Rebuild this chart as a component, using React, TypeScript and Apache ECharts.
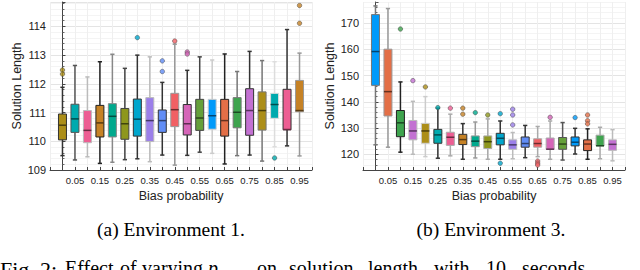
import React, { useEffect, useRef } from 'react';
import * as echarts from 'echarts';

const categories = ['0.00','0.05','0.10','0.15','0.20','0.25','0.30','0.35','0.40','0.45','0.50','0.55','0.60','0.65','0.70','0.75','0.80','0.85','0.90','0.95'];

const palette = ['#009AFA','#E36F47','#3EA44E','#C371D2','#AC8E18','#00AAAE','#ED5E93','#C68225','#00A98D','#8E971D','#00A6CD','#9B7FE9','#618DF6','#F16064','#D565B8','#65A03A'];

// [lower whisker, Q1, median, Q3, upper whisker]
const env1Boxes = [
  [109.50, 110.05, 110.56, 110.95, 111.88],
  [109.35, 110.31, 110.78, 111.29, 112.64],
  [109.46, 109.95, 110.38, 111.07, 112.24],
  [109.23, 110.15, 110.64, 111.25, 112.77],
  [109.27, 110.15, 110.87, 111.31, 113.03],
  [109.36, 110.07, 110.61, 111.14, 112.54],
  [109.39, 110.18, 110.77, 111.47, 113.00],
  [109.29, 109.99, 110.72, 111.52, 112.94],
  [109.52, 110.31, 110.72, 111.09, 112.05],
  [109.17, 110.51, 111.10, 111.67, 113.38],
  [109.51, 110.22, 110.61, 111.28, 112.47],
  [109.62, 110.38, 110.81, 111.46, 112.94],
  [109.58, 110.42, 110.89, 111.46, 112.83],
  [109.21, 110.18, 110.72, 111.46, 113.04],
  [109.50, 110.47, 111.01, 111.52, 112.43],
  [109.52, 110.21, 111.07, 111.83, 113.13],
  [109.31, 110.39, 111.07, 111.72, 112.81],
  [109.81, 110.80, 111.28, 111.67, 112.77],
  [109.84, 110.40, 110.41, 111.81, 113.89],
  [109.49, 111.03, 111.07, 112.12, 113.07],
];
const env1Outliers = [
  [0, 112.48], [0, 112.34], [6, 113.61], [8, 112.80], [8, 112.43], [9, 113.49],
  [10, 113.11], [10, 113.04], [17, 109.42], [19, 114.73], [19, 114.11],
];
const env1LineColors = ['#333','#555','#bbb','#222','#888','#444','#333','#bbb','#333','#999','#333','#444','#ccc','#222','#777','#333','#777','#ddd','#333','#999'];

const env3Boxes = [
  [123.6, 146.3, 159.2, 173.3, 176.6],
  [122.7, 134.6, 143.9, 160.1, 175.6],
  [120.8, 126.7, 132.0, 136.7, 147.6],
  [120.0, 125.5, 128.9, 132.9, 140.2],
  [119.1, 124.2, 128.9, 131.8, 142.0],
  [118.5, 124.2, 127.4, 129.5, 137.6],
  [119.4, 123.4, 126.5, 128.4, 135.3],
  [118.1, 123.7, 125.6, 127.6, 131.7],
  [118.6, 122.9, 125.0, 127.0, 132.3],
  [118.1, 122.2, 124.8, 127.0, 133.5],
  [118.1, 123.6, 126.1, 128.0, 132.7],
  [118.3, 121.9, 123.6, 125.5, 128.3],
  [118.7, 122.7, 124.1, 126.6, 131.0],
  [119.1, 122.7, 124.1, 125.9, 130.6],
  [118.1, 121.9, 121.95, 126.2, 132.7],
  [117.8, 121.9, 123.9, 126.4, 132.1],
  [120.1, 123.2, 124.6, 126.6, 129.9],
  [118.1, 121.4, 123.9, 125.5, 129.7],
  [118.3, 123.2, 123.25, 127.3, 130.3],
  [117.5, 121.5, 123.8, 125.5, 129.4],
];
const env3Outliers = [
  [2, 167.8], [3, 148.1], [4, 145.7], [5, 137.8], [6, 137.6], [7, 137.6], [7, 135.3],
  [8, 135.9], [9, 135.0], [10, 135.5], [10, 116.6], [11, 137.2], [11, 135.0], [11, 131.2],
  [13, 117.4], [13, 116.6], [13, 115.9], [14, 134.1], [16, 134.0], [17, 135.0], [17, 132.8], [17, 131.6],
];
const env3LineColors = ['#777','#999','#222','#bbb','#ccc','#333','#aaa','#333','#999','#aaa','#333','#bbb','#333','#aaa','#aaa','#555','#333','#222','#aaa','#bbb'];

const env1PaletteOffset = 4;
const env3PaletteOffset = 0;

function darken(hex: string, f: number) {
  const n = parseInt(hex.slice(1), 16);
  const r = Math.round(((n >> 16) & 255) * f);
  const g = Math.round(((n >> 8) & 255) * f);
  const b = Math.round((n & 255) * f);
  return `rgb(${r},${g},${b})`;
}

function makeRenderItem(lineColors: string[], offset: number) {
  return (params: any, api: any) => {
    const idx = params.dataIndex;
    const x = api.value(0);
    const lw = api.coord([x, api.value(1)]);
    const q1 = api.coord([x, api.value(2)]);
    const med = api.coord([x, api.value(3)]);
    const q3 = api.coord([x, api.value(4)]);
    const uw = api.coord([x, api.value(5)]);
    const band = api.size([1, 0])[0];
    const hw = band * 0.32;
    const cw = band * 0.17;
    const cx = lw[0];
    const fill = palette[(idx + offset) % palette.length];
    const lc = lineColors[idx];
    const lineStyle = { stroke: lc, lineWidth: 1.5 };
    return {
      type: 'group',
      children: [
        { type: 'line', shape: { x1: cx, y1: uw[1], x2: cx, y2: q3[1] }, style: lineStyle },
        { type: 'line', shape: { x1: cx, y1: q1[1], x2: cx, y2: lw[1] }, style: lineStyle },
        { type: 'line', shape: { x1: cx - cw, y1: uw[1], x2: cx + cw, y2: uw[1] }, style: lineStyle },
        { type: 'line', shape: { x1: cx - cw, y1: lw[1], x2: cx + cw, y2: lw[1] }, style: lineStyle },
        { type: 'rect', shape: { x: cx - hw, y: q3[1], width: hw * 2, height: q1[1] - q3[1] }, style: { fill, stroke: lc, lineWidth: 1 } },
        { type: 'line', shape: { x1: cx - hw, y1: med[1], x2: cx + hw, y2: med[1] }, style: { stroke: darken(fill, 0.45), lineWidth: 1.5 } },
      ],
    };
  };
}

const textColor = '#222';
const sans = 'Liberation Sans';

function xAxis(gridIndex: number) {
  return {
    type: 'value', gridIndex, min: -1, max: 20, interval: 1,
    name: 'Bias probability', nameLocation: 'middle', nameGap: 16,
    nameTextStyle: { fontFamily: sans, fontSize: 12.5, color: textColor },
    axisLine: { show: true, onZero: false, lineStyle: { color: '#444', width: 1 } },
    axisTick: { show: true, inside: true, length: 3, lineStyle: { color: '#444' } },
    axisLabel: {
      fontFamily: sans, fontSize: 9.5, color: textColor, margin: 5,
      formatter: (v: number) => (v >= 0 && v < categories.length && v % 2 === 1 ? categories[v] : ''),
    },
    splitLine: { show: true, lineStyle: { color: '#efefef', width: 1 } },
  };
}

function yAxis(gridIndex: number, min: number, max: number, interval?: number) {
  const a: any = {
    type: 'value', gridIndex, min, max,
    name: 'Solution Length', nameLocation: 'middle', nameGap: 25,
    nameTextStyle: { fontFamily: sans, fontSize: 12.5, color: textColor },
    axisLine: { show: true, lineStyle: { color: '#444', width: 1 } },
    axisTick: { show: true, inside: true, length: 3, lineStyle: { color: '#444' } },
    minorTick: { show: true, splitNumber: 5, length: 2, lineStyle: { color: '#666' } },
    axisLabel: { fontFamily: sans, fontSize: 11, color: textColor, margin: 4, showMinLabel: interval ? true : false, showMaxLabel: false },
    splitLine: { show: true, lineStyle: { color: '#e4e4e4', width: 1 } },
    minorSplitLine: { show: true, lineStyle: { color: '#f4f4f4', width: 1 } },
  };
  if (interval) a.interval = interval;
  return a;
}

const serif = 'Liberation Serif';
const figWords: [string, number, number][] = [
  ['Fig.', 0, 22], ['2:', 40, 22], ['Effect', 65, 20], ['of', 120, 20], ['varying', 142, 20],
  ['on', 257, 20], ['solution', 289, 20], ['length', 368, 20], ['with', 434, 20], ['10', 486, 20], ['seconds', 522, 20],
];

export default function App() {
  const ref = useRef<HTMLDivElement>(null);
  useEffect(() => {
    document.body.style.margin = '0';
    const chart = echarts.init(ref.current!, null, { renderer: 'svg' });
    const graphics: any[] = [
      { type: 'text', x: 171, y: 229, style: { text: '(a) Environment 1.', fontFamily: serif, fontSize: 19.5, fill: '#000', textAlign: 'center', textVerticalAlign: 'middle' } },
      { type: 'text', x: 491, y: 229, style: { text: '(b) Environment 3.', fontFamily: serif, fontSize: 19.5, fill: '#000', textAlign: 'center', textVerticalAlign: 'middle' } },
      ...figWords.map(([w, x, fs]) => ({ type: 'text', x, y: 258, style: { text: w, fontFamily: serif, fontSize: fs, fill: '#000', textAlign: 'left', textVerticalAlign: 'top' } })),
      { type: 'text', x: 208, y: 258, style: { text: 'p', fontFamily: serif, fontStyle: 'italic', fontSize: 20, fill: '#000', textVerticalAlign: 'top' } },
      { type: 'text', x: 219, y: 268, style: { text: 'bias', fontFamily: serif, fontStyle: 'italic', fontSize: 13, fill: '#000', textVerticalAlign: 'top' } },
    ];
    chart.setOption({
      animation: false,
      backgroundColor: '#fff',
      grid: [
        { left: 50, top: 2, width: 262, height: 168 },
        { left: 363, top: 2, width: 262, height: 168 },
      ],
      xAxis: [xAxis(0), xAxis(1)],
      yAxis: [yAxis(0, 109, 114.85, 1), yAxis(1, 114, 178.1)],
      series: [
        {
          type: 'custom', xAxisIndex: 0, yAxisIndex: 0,
          renderItem: makeRenderItem(env1LineColors, env1PaletteOffset),
          encode: { x: 0, y: [1, 2, 3, 4, 5] },
          data: env1Boxes.map((b, i) => [i, ...b]),
          z: 2,
        },
        {
          type: 'scatter', xAxisIndex: 0, yAxisIndex: 0, symbolSize: 4.5, z: 3,
          data: env1Outliers.map(([i, v]) => ({ value: [i, v], itemStyle: { color: palette[(i + env1PaletteOffset) % palette.length], borderColor: '#444', borderWidth: 0.6 } })),
        },
        {
          type: 'custom', xAxisIndex: 1, yAxisIndex: 1,
          renderItem: makeRenderItem(env3LineColors, env3PaletteOffset),
          encode: { x: 0, y: [1, 2, 3, 4, 5] },
          data: env3Boxes.map((b, i) => [i, ...b]),
          z: 2,
        },
        {
          type: 'scatter', xAxisIndex: 1, yAxisIndex: 1, symbolSize: 4.5, z: 3,
          data: env3Outliers.map(([i, v]) => ({ value: [i, v], itemStyle: { color: palette[(i + env3PaletteOffset) % palette.length], borderColor: '#444', borderWidth: 0.6 } })),
        },
      ],
      graphic: graphics,
    });
    return () => chart.dispose();
  }, []);
  return <div ref={ref} style={{ position: 'absolute', left: 0, top: 0, width: 640, height: 270, background: '#fff' }} />;
}
